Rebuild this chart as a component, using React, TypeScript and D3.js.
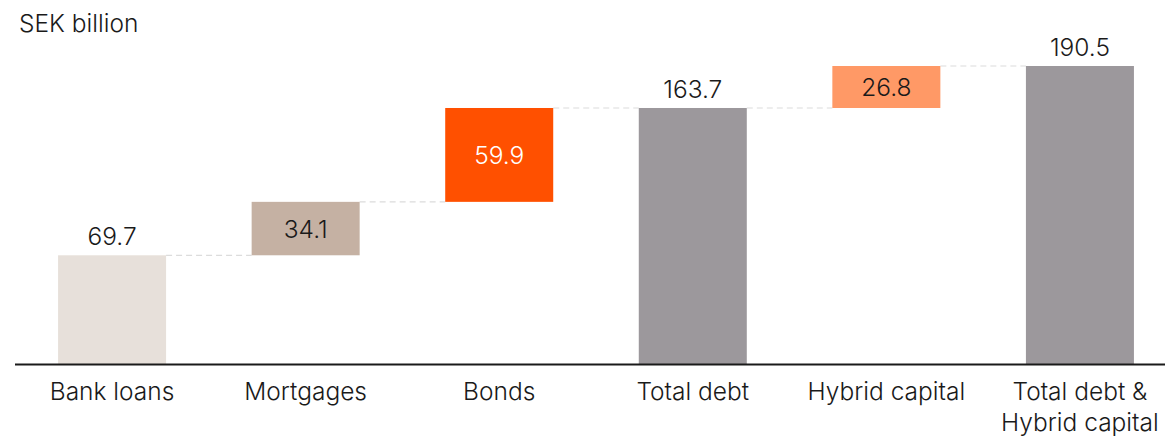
import React from "react";
import * as d3 from "d3";

const categories = ["Bank loans", "Mortgages", "Bonds", "Total debt", "Hybrid capital", "Total debt & Hybrid capital"];
const categoryLines = [["Bank loans"], ["Mortgages"], ["Bonds"], ["Total debt"], ["Hybrid capital"], ["Total debt &", "Hybrid capital"]];
const values = [69.7, 34.1, 59.9, 163.7, 26.8, 190.5];
const isTotal = [false, false, false, true, false, true];
const colors = ["#E7E0DA", "#C5B1A3", "#FF5000", "#9C989C", "#FF9966", "#9C989C"];
const labelInside = [false, true, true, false, true, false];
const labelColors = ["#1a1a1a", "#1a1a1a", "#ffffff", "#1a1a1a", "#1a1a1a", "#1a1a1a"];
const unitLabel = "SEK billion";

export default function App() {
  const W = 1165, H = 436;
  const font = "Inter, 'Open Sans', sans-serif";
  const fw = 300;
  const fs = 24.5;
  const x = d3.scaleBand<string>().domain(categories).range([0, 1192]).paddingInner(0.442).paddingOuter(0.3);
  const y = d3.scaleLinear().domain([0, 190.5]).range([364.5, 66]);

  let running = 0;
  const bars = values.map((v, i) => {
    let lo: number, hi: number;
    if (isTotal[i]) { lo = 0; hi = v; running = v; }
    else { lo = running; hi = running + v; running = hi; }
    return { cat: categories[i], v, lo, hi, i };
  });

  const bw = x.bandwidth();
  return (
    <svg width={W} height={H} style={{ display: "block", position: "absolute", left: 0, top: 0 }}>
      <rect width={W} height={H} fill="#fff" />
      <text x={19} y={32} fontFamily={font} fontWeight={fw} fontSize={fs} fill="#1a1a1a">{unitLabel}</text>
      {bars.slice(0, -1).map((b, i) => {
        const next = bars[i + 1];
        const yy = y(b.hi);
        return (
          <line key={"c" + i} x1={(x(b.cat) as number) + bw} x2={x(next.cat) as number} y1={yy} y2={yy}
            stroke="#dcdcdc" strokeWidth={1.2} strokeDasharray="6,4" />
        );
      })}
      {bars.map((b) => (
        <rect key={b.cat} x={x(b.cat)} y={y(b.hi)} width={bw} height={y(b.lo) - y(b.hi)} fill={colors[b.i]} />
      ))}
      {bars.map((b) => {
        const cx = (x(b.cat) as number) + bw / 2;
        const ty = labelInside[b.i] ? (y(b.hi) + y(b.lo)) / 2 + 9 : y(b.hi) - 10;
        return (
          <text key={"v" + b.cat} x={cx} y={ty} textAnchor="middle" fontFamily={font} fontWeight={fw} fontSize={fs} fill={labelColors[b.i]}>
            {b.v.toFixed(1)}
          </text>
        );
      })}
      <line x1={15} x2={W} y1={364.5} y2={364.5} stroke="#1a1a1a" strokeWidth={2} />
      {categories.map((c, i) => {
        const cx = (x(c) as number) + bw / 2;
        return (
          <text key={"l" + c} x={cx} y={400} textAnchor="middle" fontFamily={font} fontWeight={fw} fontSize={fs} fill="#1a1a1a">
            {categoryLines[i].map((ln, j) => (
              <tspan key={j} x={cx} dy={j === 0 ? 0 : 31}>{ln}</tspan>
            ))}
          </text>
        );
      })}
    </svg>
  );
}
